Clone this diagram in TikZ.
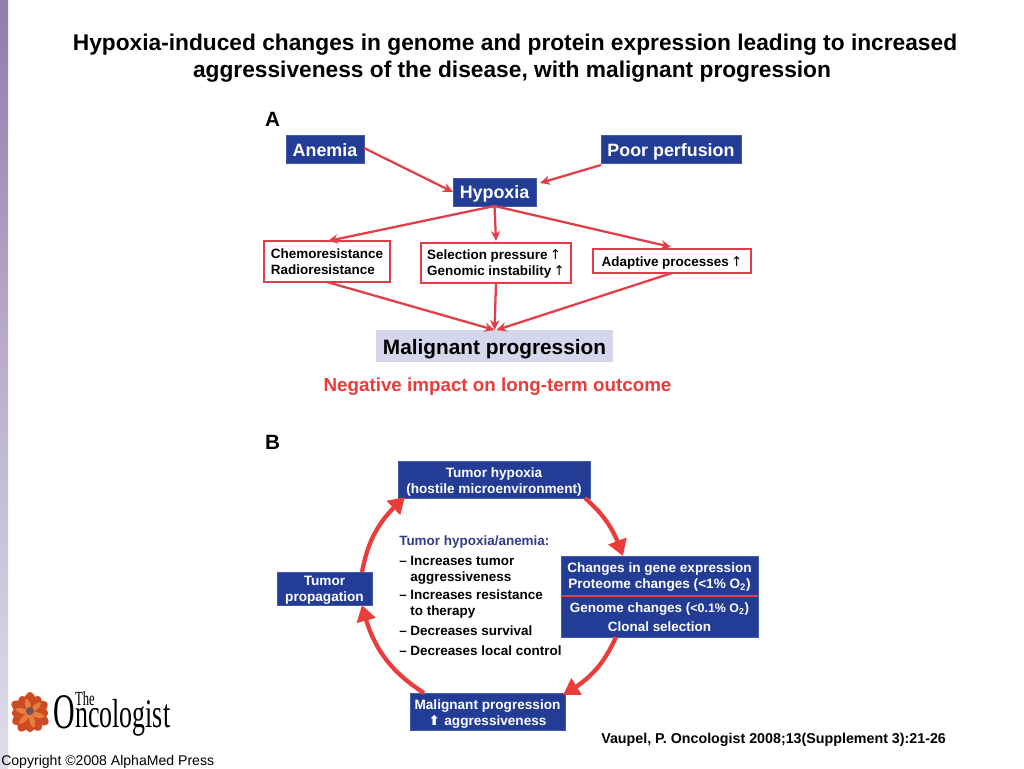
\documentclass[tikz,border=0pt]{standalone}
\usepackage{fontspec}
\setmainfont{Liberation Sans}
\newfontfamily\djv{DejaVu Sans}
\newfontfamily\lserif{Liberation Serif}
\usetikzlibrary{arrows.meta,calc,bending}
\definecolor{navy}{RGB}{35,60,150}
\definecolor{redline}{RGB}{226,62,72}
\definecolor{redfat}{RGB}{234,60,58}
\definecolor{lav}{RGB}{213,213,236}
\definecolor{purp}{RGB}{143,125,172}
\definecolor{paleviolet}{RGB}{224,221,235}
\definecolor{hypblue}{RGB}{50,60,140}
\definecolor{petal}{RGB}{205,75,35}
\definecolor{petallight}{RGB}{232,125,65}
\definecolor{flowerc}{RGB}{110,85,85}
\tikzset{
  x=0.75pt,y=-0.75pt,
  bluebox/.style={fill=navy,draw=navy!85!white,line width=.4pt},
  bluetext/.style={text=white,font=\bfseries\fontsize{10.2}{12}\selectfont,align=center},
  bigbox/.style={bluebox},
  bigtext/.style={text=white,font=\bfseries\fontsize{13.4}{15}\selectfont,text height=9.6pt,text depth=0pt},
  redbox/.style={fill=white,draw=redline,line width=1.6pt},
  redtext/.style={text=black,font=\bfseries\fontsize{10.1}{12}\selectfont,align=left},
  lavbox/.style={fill=lav},
  lavtext/.style={text=black,font=\bfseries\fontsize{15.6}{18}\selectfont,text height=11.2pt,text depth=0pt},
  thin arrow/.style={draw=redline,line width=1.7pt,-{Stealth[length=7.5pt,width=7pt]}},
  fat arrow/.style={draw=redfat,line width=3.2pt,-{Triangle[length=12pt,width=14pt,flex=1]}},
  panel/.style={inner sep=0pt,outer sep=0pt,text=black,font=\bfseries\fontsize{15.5}{18}\selectfont},
}
\newcommand{\pbox}[8][0]{%
  \pgfmathsetmacro{\bxw}{(#5-#3)*0.75}%
  \pgfmathsetmacro{\bxh}{(#6-#4)*0.75}%
  \node[#7box,inner sep=0pt,outer sep=0pt,minimum width=\bxw pt,minimum height=\bxh pt] (#2) at ({(#3+#5)/2},{(#4+#6)/2}) {};%
  \node[#7text,inner sep=0pt,outer sep=0pt] (#2t) at ($(#2)+(0,#1)$) {#8};%
}
\newcommand{\upa}{{\djv\mdseries\,↑}}
\begin{document}
\begin{tikzpicture}
\useasboundingbox (0,0) rectangle (1024,768);
\fill[white] (0,0) rectangle (1024,768);
% side strip
\shade[top color=purp,bottom color=purp!60!white] (0,0) rectangle (8,384);
\shade[top color=purp!60!white,bottom color=paleviolet] (0,384) rectangle (8,768);
% title
\node[font=\bfseries\fontsize{17.05}{20.2}\selectfont,align=center,inner sep=0pt,text=black] (title) at (515,58)
 {Hypoxia-induced changes in genome and protein expression leading to increased\\aggressiveness of the disease, with malignant progression\hspace*{4.5pt}};
% panel A
\node[panel,anchor=west] (lA) at (265,119) {A};
\pbox[1]{anemia}{286}{135}{364}{163}{big}{Anemia}
\pbox[1]{poor}{601}{135}{741}{163}{big}{Poor perfusion}
\pbox{hyp}{453}{178}{536}{206}{big}{Hypoxia}
\pbox{chemo}{264}{241}{390}{282}{red}{Chemoresistance\\Radioresistance}
\pbox[0.5]{sel}{421}{243}{571}{283}{red}{Selection pressure\upa\\Genomic instability\upa}
\pbox[1.5]{adapt}{593}{249}{751}{273}{red}{Adaptive processes\upa}
\pbox[1]{mal}{376}{330}{613}{362}{lav}{Malignant progression}
\node[inner sep=0pt,text=redfat,font=\bfseries\fontsize{14.1}{16}\selectfont] (neg) at (497.5,387) {Negative impact on long-term outcome};
\coordinate (hypIn) at ($(hyp.north east)+(4,5)$);
\coordinate (hypOut) at (hyp.south);
\draw[thin arrow] ($(anemia.east)+(0,-1)$) -- (hyp.west);
\draw[thin arrow] (poor.south west) ++(0,2) -- (hypIn);
\draw[thin arrow] (hypOut) -- ($(chemo.north)+(1,0)$);
\draw[thin arrow] (hypOut) -- ($(sel.north)+(0,-2)$);
\draw[thin arrow] (hypOut) -- ($(adapt.north)+(-1,-2)$);
\draw[thin arrow] (chemo.south) -- (mal.north);
\draw[thin arrow] (sel.south) -- (mal.north);
\draw[thin arrow] (adapt.south) -- ($(mal.north)+(2,0)$);
% panel B
\node[panel,anchor=west] (lB) at (265,442) {B};
\pbox[2.5]{thyp}{398}{461}{590}{498}{blue}{Tumor hypoxia\\(hostile microenvironment)}
\pbox[99]{gene}{561}{556}{758}{637}{blue}{}
\node[bluetext,inner sep=0pt] (genetop) at (659.5,577) {Changes in gene expression\\Proteome changes (<1\% O\textsubscript{2})};
\node[inner sep=0pt,text=white,font=\bfseries\fontsize{10.1}{14.5}\selectfont,align=center] (genebot) at (659.5,617) {Genome changes ({\fontsize{9.3}{12}\selectfont <0.1\% O\textsubscript{2}})\\Clonal selection};
\draw[redline,line width=1.1pt] (gene.west |- 0,596) coordinate (gl) -- (gene.east |- 0,596) coordinate (gr);
\pbox[1.5]{prop}{277}{572}{372}{605}{blue}{Tumor\\propagation}
\pbox[2.5]{mprog}{410}{693}{565}{730}{blue}{Malignant progression\\{\djv ⬆}\,\,aggressiveness}
\node[inner sep=0pt,anchor=north west,align=left,text=black,font=\bfseries\fontsize{10.1}{12}\selectfont] (list) at (399,535) {%
 \textcolor{hypblue}{Tumor hypoxia/anemia:}\\[3pt]
 \makebox[8.3pt][l]{–}Increases tumor\\
 \hspace*{8.3pt}aggressiveness\\[2pt]
 \makebox[8.3pt][l]{–}Increases resistance\\
 \hspace*{8.3pt}to therapy\\[3pt]
 \makebox[8.3pt][l]{–}Decreases survival\\[3pt]
 \makebox[8.3pt][l]{–}Decreases local control};
\draw[fat arrow] ($(thyp.south east)+(-5,0)$) to[bend left=15] ($(gene.north west)+(62,0)$);
\draw[fat arrow] ($(gene.south west)+(55,0)$) to[bend left=18] ($(mprog.north east)+(-2,2)$);
\draw[fat arrow] ($(mprog.north west)+(14,0)$) to[bend left=22] ($(prop.south east)+(-10,0)$);
\draw[fat arrow] ($(prop.north east)+(-10,0)$) to[bend left=19] ($(thyp.south west)+(7,-1)$);
% citation and copyright
\node[inner sep=0pt,anchor=base west,text=black,font=\bfseries\fontsize{10.7}{12}\selectfont] (cite) at (601,743) {Vaupel, P. Oncologist 2008;13(Supplement 3):21-26};
\node[inner sep=0pt,anchor=base west,text=black,font=\fontsize{10.55}{12}\selectfont] (copy) at (1,765) {Copyright ©2008 AlphaMed Press};
% logo
\foreach \a/\r in {0/21,30/19,60/21,90/18,120/20,150/21,180/19,210/20,240/21,270/18,300/20,330/19}{
  \fill[rotate around={\a:(30,713)},fill=petal] (30,713) .. controls (19,707) and (25,{713-\r}) .. (30,{713-\r}) .. controls (35,{713-\r}) and (41,707) .. (30,713);
}
\foreach \a in {15,75,...,345}{
  \fill[rotate around={\a:(30,713)},fill=petallight] (30,713) .. controls (25,707) and (28,698) .. (30,698) .. controls (32,698) and (35,707) .. (30,713);
}
\fill[flowerc] (30,711) circle (4);
\node[inner sep=0pt,anchor=base west,text=black,xscale=.68,yscale=1.13,font=\lserif\fontsize{33}{33}\selectfont] (logoO) at (53,728) {O};
\node[inner sep=0pt,anchor=base west,text=black,xscale=.63,font=\lserif\fontsize{15}{15}\selectfont] (logoT) at (75,705) {The};
\node[inner sep=0pt,anchor=base west,text=black,xscale=.925,yscale=1.45,font=\lserif\fontsize{21}{21}\selectfont] (logoN) at (75,727) {ncologist};
\end{tikzpicture}
\end{document}
